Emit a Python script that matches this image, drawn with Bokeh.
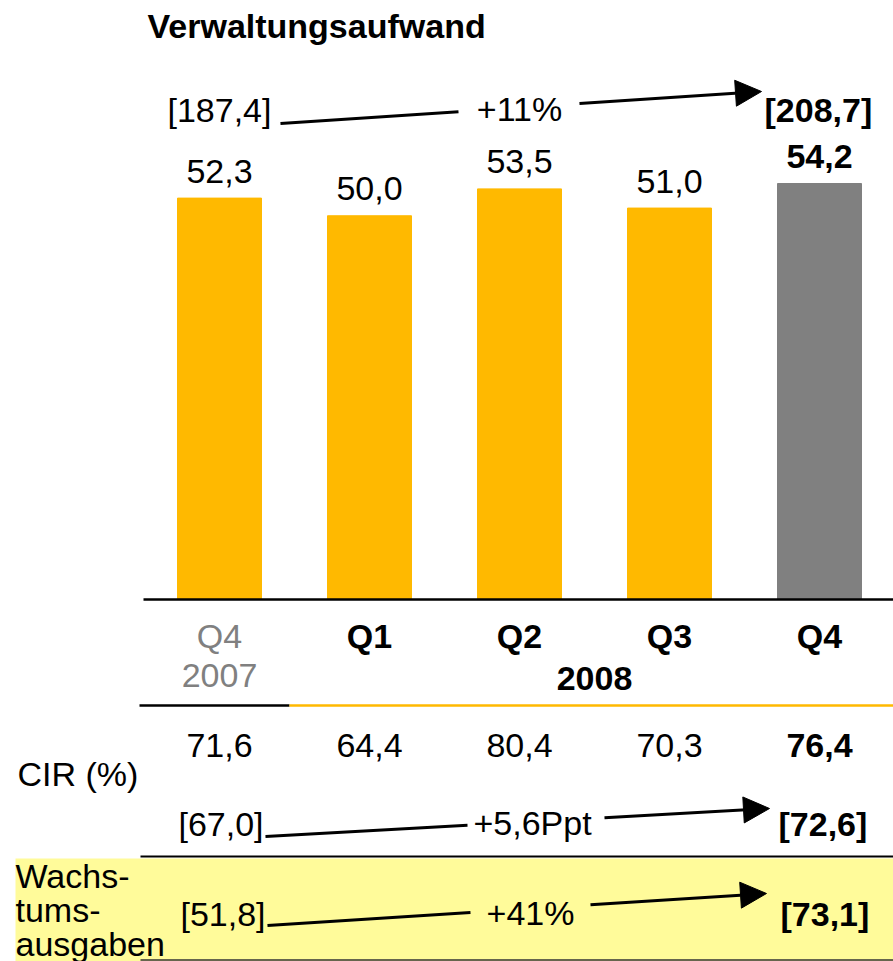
import numpy as np
from bokeh.plotting import figure
from bokeh.models import ColumnDataSource, Range1d, Arrow, NormalHead
from bokeh.core.properties import value
from bokeh.embed import file_html
from bokeh.resources import INLINE

# ---------------- data ----------------
title = "Verwaltungsaufwand"
categories = ["Q4 2007", "Q1 2008", "Q2 2008", "Q3 2008", "Q4 2008"]
quarter_labels = ["Q4", "Q1", "Q2", "Q3", "Q4"]
year_labels = ["2007", "2008"]
admin_expense = [52.3, 50.0, 53.5, 51.0, 54.2]
cir_pct = [71.6, 64.4, 80.4, 70.3, 76.4]
admin_total = [187.4, 208.7]
admin_change = "+11%"
cir_full_year = [67.0, 72.6]
cir_change = "+5,6Ppt"
growth_spend = [51.8, 73.1]
growth_change = "+41%"
cir_label = "CIR (%)"
growth_label = ["Wachs-", "tums-", "ausgaben"]

# ---------------- styles / layout ----------------
BAR_YELLOW = "#FFB900"
BAR_GREY = "#808080"
BOX_YELLOW = "#FFFB9A"
FONT = "Liberation Sans"
FS = "34px"
W, H = 893, 961
X0, DX = 219.0, 150.0      # reference px of first category center, spacing
Y0, PXU = 599.0, 7.675     # reference px of baseline, px per unit
FIX = 12.0                 # text baseline correction (px)

def rx(px):
    return (px - X0) / DX

def ry(py):
    return (Y0 - py) / PXU

def ty(py):
    return ry(py - FIX)

def de(v):
    return f"{v:.1f}".replace(".", ",")

idx = np.arange(len(categories))
n = len(categories)
bar_colors = [BAR_YELLOW] * (n - 1) + [BAR_GREY]
emph_style = ["normal"] * (n - 1) + ["bold"]
q_colors = [BAR_GREY] + ["black"] * (n - 1)
q_styles = ["normal"] + ["bold"] * (n - 1)

p = figure(width=W, height=H, x_range=Range1d(rx(0), rx(W)),
           y_range=Range1d(ry(H), ry(0)), output_backend="svg",
           toolbar_location=None, min_border=0, x_axis_type=None,
           y_axis_type=None, background_fill_color="white",
           border_fill_color="white")
p.grid.visible = False
p.outline_line_color = None

def txt(x, y, s, align="left", bold=False, color="black"):
    p.text(x=[rx(x)], y=[ty(y)], text=[s], text_align=align,
           text_baseline="alphabetic", text_font=value(FONT),
           text_font_size=FS, text_font_style="bold" if bold else "normal",
           text_color=color)

# yellow box for growth row
p.quad(left=[rx(15)], right=[rx(893)], top=[ry(858)], bottom=[ry(961)],
       fill_color=BOX_YELLOW, line_color=None)

# bars
src = ColumnDataSource(dict(x=idx, top=admin_expense, color=bar_colors,
                            lab=[de(v) for v in admin_expense],
                            ly=[v + (15 + FIX) / PXU for v in admin_expense],
                            style=emph_style))
p.vbar(x="x", top="top", bottom=0, width=84 / DX, color="color", source=src)
p.text(x="x", y="ly", text="lab", source=src, text_align="center",
       text_baseline="alphabetic", text_font=value(FONT), text_font_size=FS,
       text_font_style="style", text_color="black")

# horizontal rules
p.segment(x0=[rx(143)], x1=[rx(893)], y0=[0], y1=[0], line_color="black",
          line_width=2.5)
p.segment(x0=[rx(139)], x1=[rx(289)], y0=[ry(705)], y1=[ry(705)],
          line_color="black", line_width=2.5)
p.segment(x0=[rx(289)], x1=[rx(893)], y0=[ry(705)], y1=[ry(705)],
          line_color=BAR_YELLOW, line_width=2.5)
p.segment(x0=[rx(140)], x1=[rx(893)], y0=[ry(856)], y1=[ry(856)],
          line_color="black", line_width=2)
p.segment(x0=[rx(140)], x1=[rx(893)], y0=[ry(959.5)], y1=[ry(959.5)],
          line_color="#333333", line_width=1.5)

# category labels
qsrc = ColumnDataSource(dict(x=idx, y=[ty(647)] * n, t=quarter_labels,
                             c=q_colors, s=q_styles))
p.text(x="x", y="y", text="t", source=qsrc, text_align="center",
       text_baseline="alphabetic", text_font=value(FONT), text_font_size=FS,
       text_font_style="s", text_color="c")
p.text(x=[idx[0], idx[1:].mean()], y=[ty(687), ty(690)], text=year_labels,
       text_align="center", text_baseline="alphabetic", text_font=value(FONT),
       text_font_size=FS, text_font_style=["normal", "bold"],
       text_color=[BAR_GREY, "black"])

# CIR row
csrc = ColumnDataSource(dict(x=idx, y=[ty(757)] * n,
                             t=[de(v) for v in cir_pct], s=emph_style))
p.text(x="x", y="y", text="t", source=csrc, text_align="center",
       text_baseline="alphabetic", text_font=value(FONT), text_font_size=FS,
       text_font_style="s", text_color="black")
txt(17, 785, cir_label)

# title
txt(147, 37, title, bold=True)

# growth row labels
for s, by in zip(growth_label, [887, 921, 955]):
    txt(15, by, s)

# comparison rows: [prev] ---- change ----> [current]
def compare(vals, change, left_x, base_y, change_cx, right_x, l1, l2):
    txt(left_x, base_y, f"[{de(vals[0])}]")
    txt(change_cx, base_y - 1, change, align="center")
    txt(right_x, base_y, f"[{de(vals[1])}]", bold=True)
    (a, b), (c, d) = l1
    p.segment(x0=[rx(a)], y0=[ry(b)], x1=[rx(c)], y1=[ry(d)],
              line_color="black", line_width=3)
    (a, b), (c, d) = l2
    p.add_layout(Arrow(end=NormalHead(size=26, fill_color="black",
                                      line_color="black"),
                       x_start=rx(a), y_start=ry(b), x_end=rx(c), y_end=ry(d),
                       line_color="black", line_width=3))

compare(admin_total, admin_change, 167, 121, 519, 764,
        ((280, 123), (458, 111.2)), ((579, 103.1), (761, 91)))
compare(cir_full_year, cir_change, 178, 835, 532, 778,
        ((265, 836), (467, 824.8)), ((604, 817.2), (769, 808)))
compare(growth_spend, growth_change, 180, 925, 530, 780,
        ((267, 925), (470, 912)), ((590, 904.3), (766, 893)))

open("out.html", "w").write(file_html(p, INLINE))
